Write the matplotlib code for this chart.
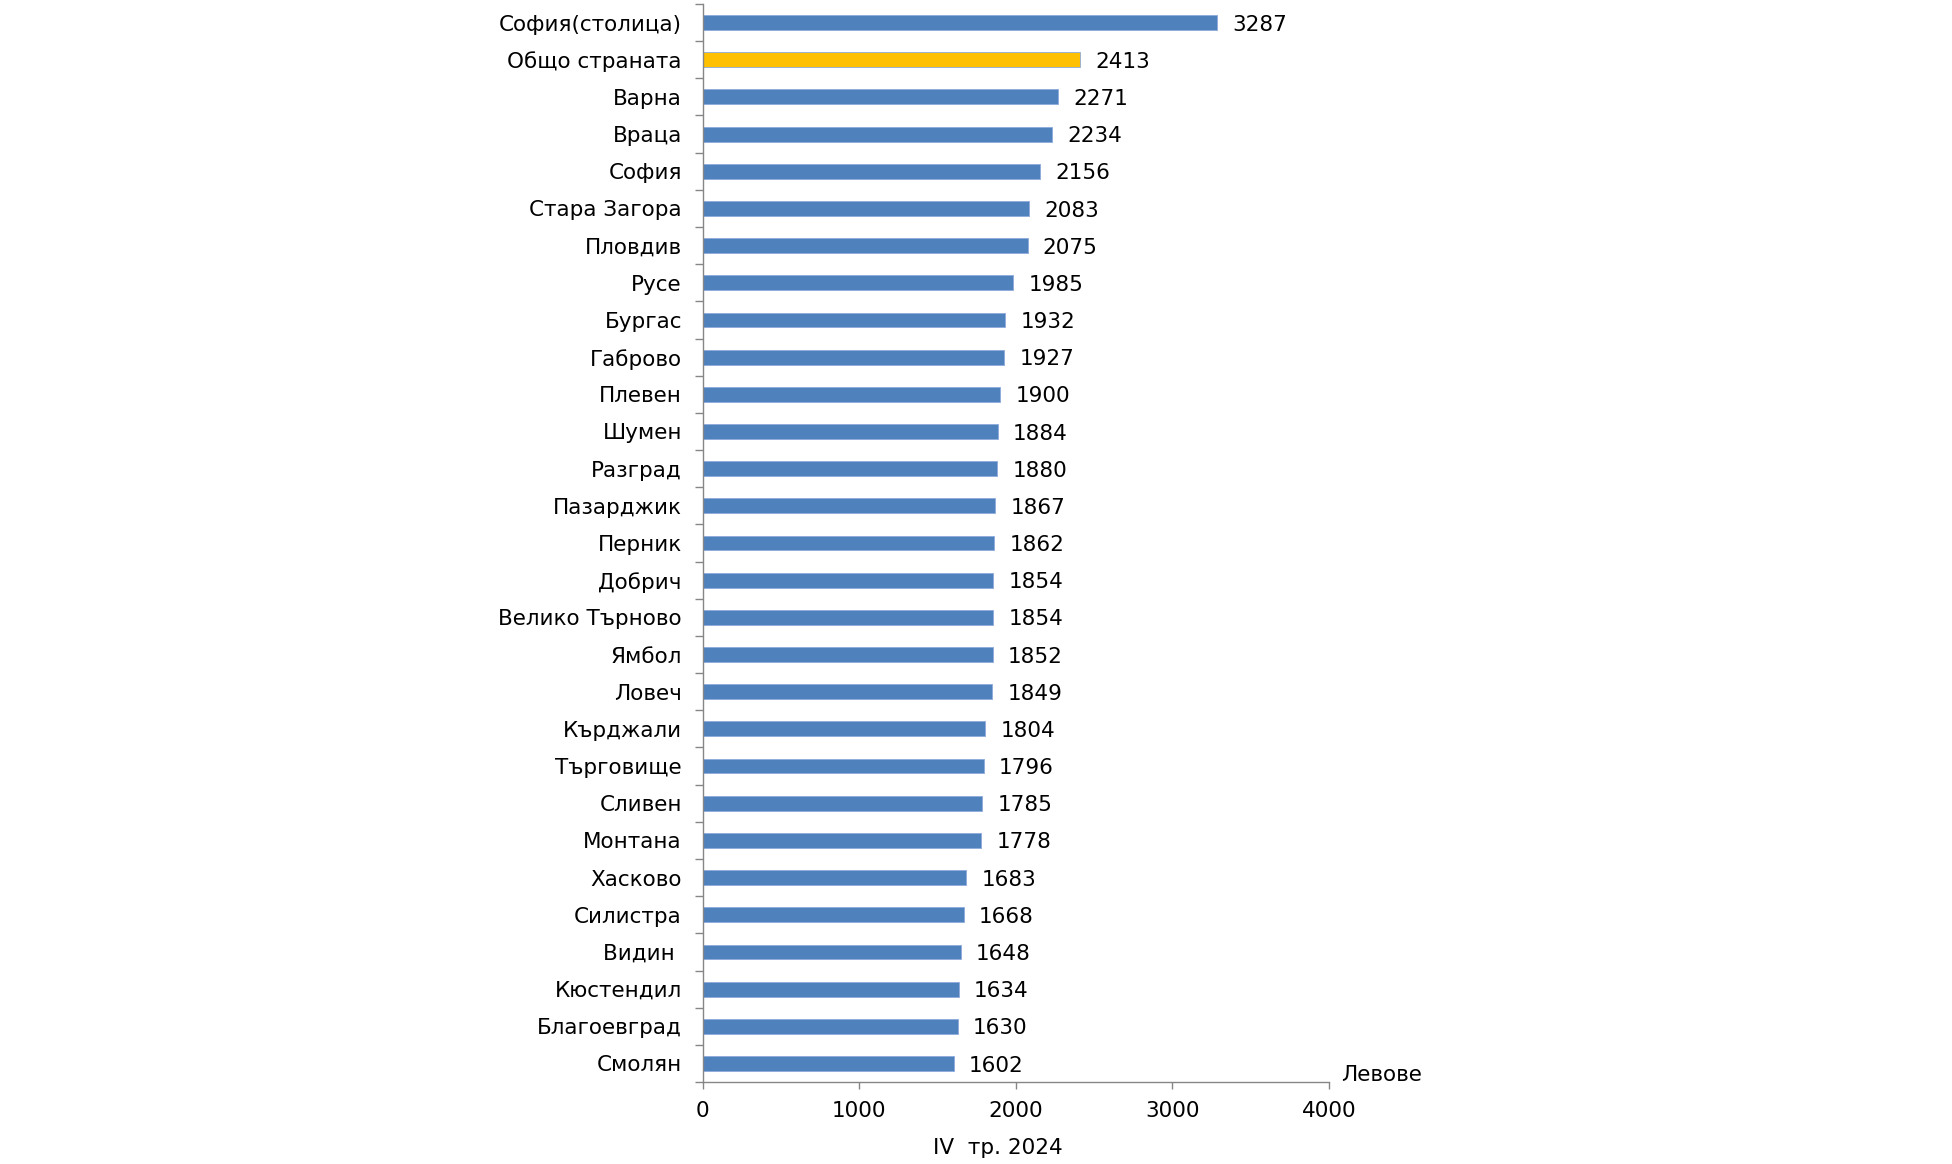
import matplotlib
matplotlib.use("Agg")
import matplotlib.pyplot as plt
import numpy as np

regions = ["София(столица)", "Общо страната", "Варна", "Враца", "София",
           "Стара Загора", "Пловдив", "Русе", "Бургас", "Габрово", "Плевен",
           "Шумен", "Разград", "Пазарджик", "Перник", "Добрич",
           "Велико Търново", "Ямбол", "Ловеч", "Кърджали", "Търговище",
           "Сливен", "Монтана", "Хасково", "Силистра", "Видин ", "Кюстендил",
           "Благоевград", "Смолян"]
wages = [3287, 2413, 2271, 2234, 2156, 2083, 2075, 1985, 1932, 1927, 1900,
         1884, 1880, 1867, 1862, 1854, 1854, 1852, 1849, 1804, 1796, 1785,
         1778, 1683, 1668, 1648, 1634, 1630, 1602]
highlight = "Общо страната"

plt.rcParams['font.family'] = ['DejaVu Sans']
fs = 15.5

fig = plt.figure(figsize=(19.52, 11.64), dpi=100)
ax = fig.add_axes([0.36, 0.0704, 0.3208, 0.9262])

n = len(regions)
y = np.arange(n)
colors = ["#FFC000" if r == highlight else "#4F81BD" for r in regions]
ax.barh(y, wages, height=0.4, color=colors, edgecolor="#8EAADB", linewidth=0.6)

for yi, v in zip(y, wages):
    ax.annotate(str(v), (v, yi), xytext=(11, -1.5), textcoords="offset points",
                va="center", ha="left", fontsize=fs)

ax.set_ylim(n - 0.5, -0.5)
ax.set_xlim(0, 4000)
ax.set_xticks([0, 1000, 2000, 3000, 4000])
ax.set_yticks(np.arange(-0.5, n, 1), minor=False)
ax.set_yticklabels([])
ax.set_yticks(y, minor=True)
ax.set_yticklabels(regions, minor=True, fontsize=fs)
ax.tick_params(axis="y", which="major", direction="out", length=6, width=1,
               color="#868686")
ax.tick_params(axis="y", which="minor", length=0, pad=15)
ax.tick_params(axis="x", direction="out", length=5, width=1, color="#868686",
               labelsize=fs, pad=9)

for s in ["top", "right"]:
    ax.spines[s].set_visible(False)
for s in ["left", "bottom"]:
    ax.spines[s].set_color("#868686")
    ax.spines[s].set_linewidth(1)

ax.text(1.02, 0.007, "Левове", transform=ax.transAxes, fontsize=fs,
        ha="left", va="center")
ax.set_xlabel("IV  тр. 2024", fontsize=fs)
ax.xaxis.set_label_coords(0.472, -0.052)

fig.savefig("out.png", dpi=100)
